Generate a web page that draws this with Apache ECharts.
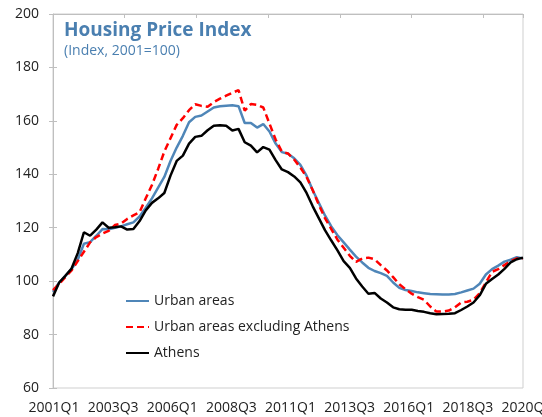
<!DOCTYPE html>
<html><head><meta charset="utf-8">
<script src="https://cdn.jsdelivr.net/npm/echarts@6/dist/echarts.min.js"></script>
<style>html,body{margin:0;padding:0;background:#fff}#c{width:542px;height:417px}</style>
</head><body><div id="c"></div>
<script>
const quarters = [
 '2001Q1','2001Q2','2001Q3','2001Q4','2002Q1','2002Q2','2002Q3','2002Q4',
 '2003Q1','2003Q2','2003Q3','2003Q4','2004Q1','2004Q2','2004Q3','2004Q4',
 '2005Q1','2005Q2','2005Q3','2005Q4','2006Q1','2006Q2','2006Q3','2006Q4',
 '2007Q1','2007Q2','2007Q3','2007Q4','2008Q1','2008Q2','2008Q3','2008Q4',
 '2009Q1','2009Q2','2009Q3','2009Q4','2010Q1','2010Q2','2010Q3','2010Q4',
 '2011Q1','2011Q2','2011Q3','2011Q4','2012Q1','2012Q2','2012Q3','2012Q4',
 '2013Q1','2013Q2','2013Q3','2013Q4','2014Q1','2014Q2','2014Q3','2014Q4',
 '2015Q1','2015Q2','2015Q3','2015Q4','2016Q1','2016Q2','2016Q3','2016Q4',
 '2017Q1','2017Q2','2017Q3','2017Q4','2018Q1','2018Q2','2018Q3','2018Q4',
 '2019Q1','2019Q2','2019Q3','2019Q4','2020Q1'
];
const tickLabels = ['2001Q1','2003Q3','2006Q1','2008Q3','2011Q1','2013Q3','2016Q1','2018Q3','2020Q1'];
const urban = [
 96,99.5,102,104.5,108,114,114.6,117,119.5,119.4,
 120,120.5,121.3,122,124.2,127.5,131,135,139,145,
 150,154.4,159.5,161.5,162,163.5,165,165.5,165.7,165.8,
 165.5,159.2,159.2,157.5,158.8,156,151.5,148.3,147.7,146,
 143.5,139.5,134,129.2,124.5,120.5,117.2,114.5,111.8,109.2,
 107,105,103.8,103,102,99.5,97.5,96.7,96.3,95.8,
 95.5,95.2,95.1,95,95,95.2,95.8,96.5,97.2,99,
 102.5,104.5,105.8,107.3,108,109,108.5
];
const urbanExAthens = [
 96.6,99,101.5,104,107.5,111,114.5,116.5,117.8,118.8,
 121,121.5,123.3,124.6,125.8,131,136,142,148.5,153.5,
 158.5,161,164,166.2,165.6,165.3,167,168.3,169.4,170.5,
 171.5,163.8,166.3,166,165,159,153,148.5,147.8,145.5,
 142.5,139,134,128.5,123.5,119.5,115.5,112.5,109.5,107.2,
 108.5,108.8,108.2,106,104,101.5,98.8,97,95.3,94,
 93,90.5,88.6,88.6,89,90.2,92,92.3,93,95.5,
 99.5,103.5,104.5,106,107.5,108.5,108.5
];
const athens = [
 94.3,99.5,102,104.7,110.5,118.3,117,119.3,122,120,
 120.2,120.5,119.3,119.5,122.5,126.5,129.3,131,133,139.5,
 145,147,151.5,154,154.4,156.5,158.2,158.4,158.2,156.4,
 157,152,150.7,148.2,150.2,149.2,145.3,141.8,140.8,139.2,
 137,133,128,123.5,119,115.2,111.5,107.5,105,101,
 98,95.3,95.6,93.5,92,90.2,89.5,89.3,89.3,88.8,
 88.5,88,87.6,87.7,87.8,88,89.2,90.5,92,94.7,
 99,100.8,102.5,104.6,107,108.2,108.8
];

const FONT = '"Open Sans", sans-serif';
const AXIS_GRAY = '#bfbfbf';
const chart = echarts.init(document.getElementById('c'), null, {renderer: 'canvas'});
chart.setOption({
  animation: false,
  backgroundColor: '#ffffff',
  title: {
    text: 'Housing Price Index',
    subtext: '(Index, 2001=100)',
    left: 59, top: 16, itemGap: 4,
    textStyle: {fontFamily: FONT, fontWeight: 'bold', fontSize: 19, color: '#4a7fb0'},
    subtextStyle: {fontFamily: FONT, fontSize: 14, color: '#4a7fb0'}
  },
  legend: {
    orient: 'vertical', left: 120, top: 289,
    itemWidth: 23, itemHeight: 14, itemGap: 12,
    itemStyle: {opacity: 0, borderWidth: 0},
    textStyle: {fontFamily: FONT, fontSize: 14, color: '#222'},
    data: ['Urban areas', 'Urban areas excluding Athens', 'Athens']
  },
  grid: [
    {left: 53, right: 19, top: 14, bottom: 29, outerBoundsMode: 'none', containLabel: false,
     show: true, borderColor: '#cfcfcf', borderWidth: 1, backgroundColor: 'transparent'},
    {left: 54, right: 15, top: 14, bottom: 29, outerBoundsMode: 'none', containLabel: false}
  ],
  xAxis: [
    {type: 'category', gridIndex: 0, data: quarters, boundaryGap: false, show: false},
    {type: 'value', gridIndex: 0, min: 0, max: 6.555, interval: 1,
     axisLine: {show: true, lineStyle: {color: AXIS_GRAY}},
     axisTick: {show: true, inside: true, length: 4, lineStyle: {color: AXIS_GRAY}},
     axisLabel: {show: false}, splitLine: {show: false}},
    {type: 'category', gridIndex: 1, data: tickLabels, boundaryGap: false,
     axisLine: {show: false}, axisTick: {show: false}, splitLine: {show: false},
     axisLabel: {interval: 0, margin: 13, fontFamily: FONT, fontSize: 14, color: '#222'}}
  ],
  yAxis: [
    {type: 'value', gridIndex: 0, min: 60, max: 200, interval: 20,
     axisLine: {show: true, lineStyle: {color: AXIS_GRAY}},
     axisTick: {show: true, length: 4, lineStyle: {color: AXIS_GRAY}},
     axisLabel: {margin: 14, fontFamily: FONT, fontSize: 14, color: '#222'},
     splitLine: {show: false}},
    {type: 'value', gridIndex: 0, min: 60, max: 200, interval: 20, position: 'left',
     axisLine: {show: false},
     axisTick: {show: true, inside: true, length: 4, lineStyle: {color: AXIS_GRAY}},
     axisLabel: {show: false}, splitLine: {show: false}},
    {type: 'value', gridIndex: 1, min: 60, max: 200, show: false}
  ],
  series: [
    {name: 'Urban areas', type: 'line', xAxisIndex: 0, yAxisIndex: 0, data: urban,
     symbol: 'none', lineStyle: {color: '#4f86b8', width: 2.5}, itemStyle: {color: '#4f86b8'}},
    {name: 'Urban areas excluding Athens', type: 'line', xAxisIndex: 0, yAxisIndex: 0, data: urbanExAthens,
     symbol: 'none', lineStyle: {color: '#ff0000', width: 2.5, type: [7, 4]}, itemStyle: {color: '#ff0000'}},
    {name: 'Athens', type: 'line', xAxisIndex: 0, yAxisIndex: 0, data: athens,
     symbol: 'none', lineStyle: {color: '#000000', width: 2.5}, itemStyle: {color: '#000000'}}
  ]
});
</script>
</body></html>
